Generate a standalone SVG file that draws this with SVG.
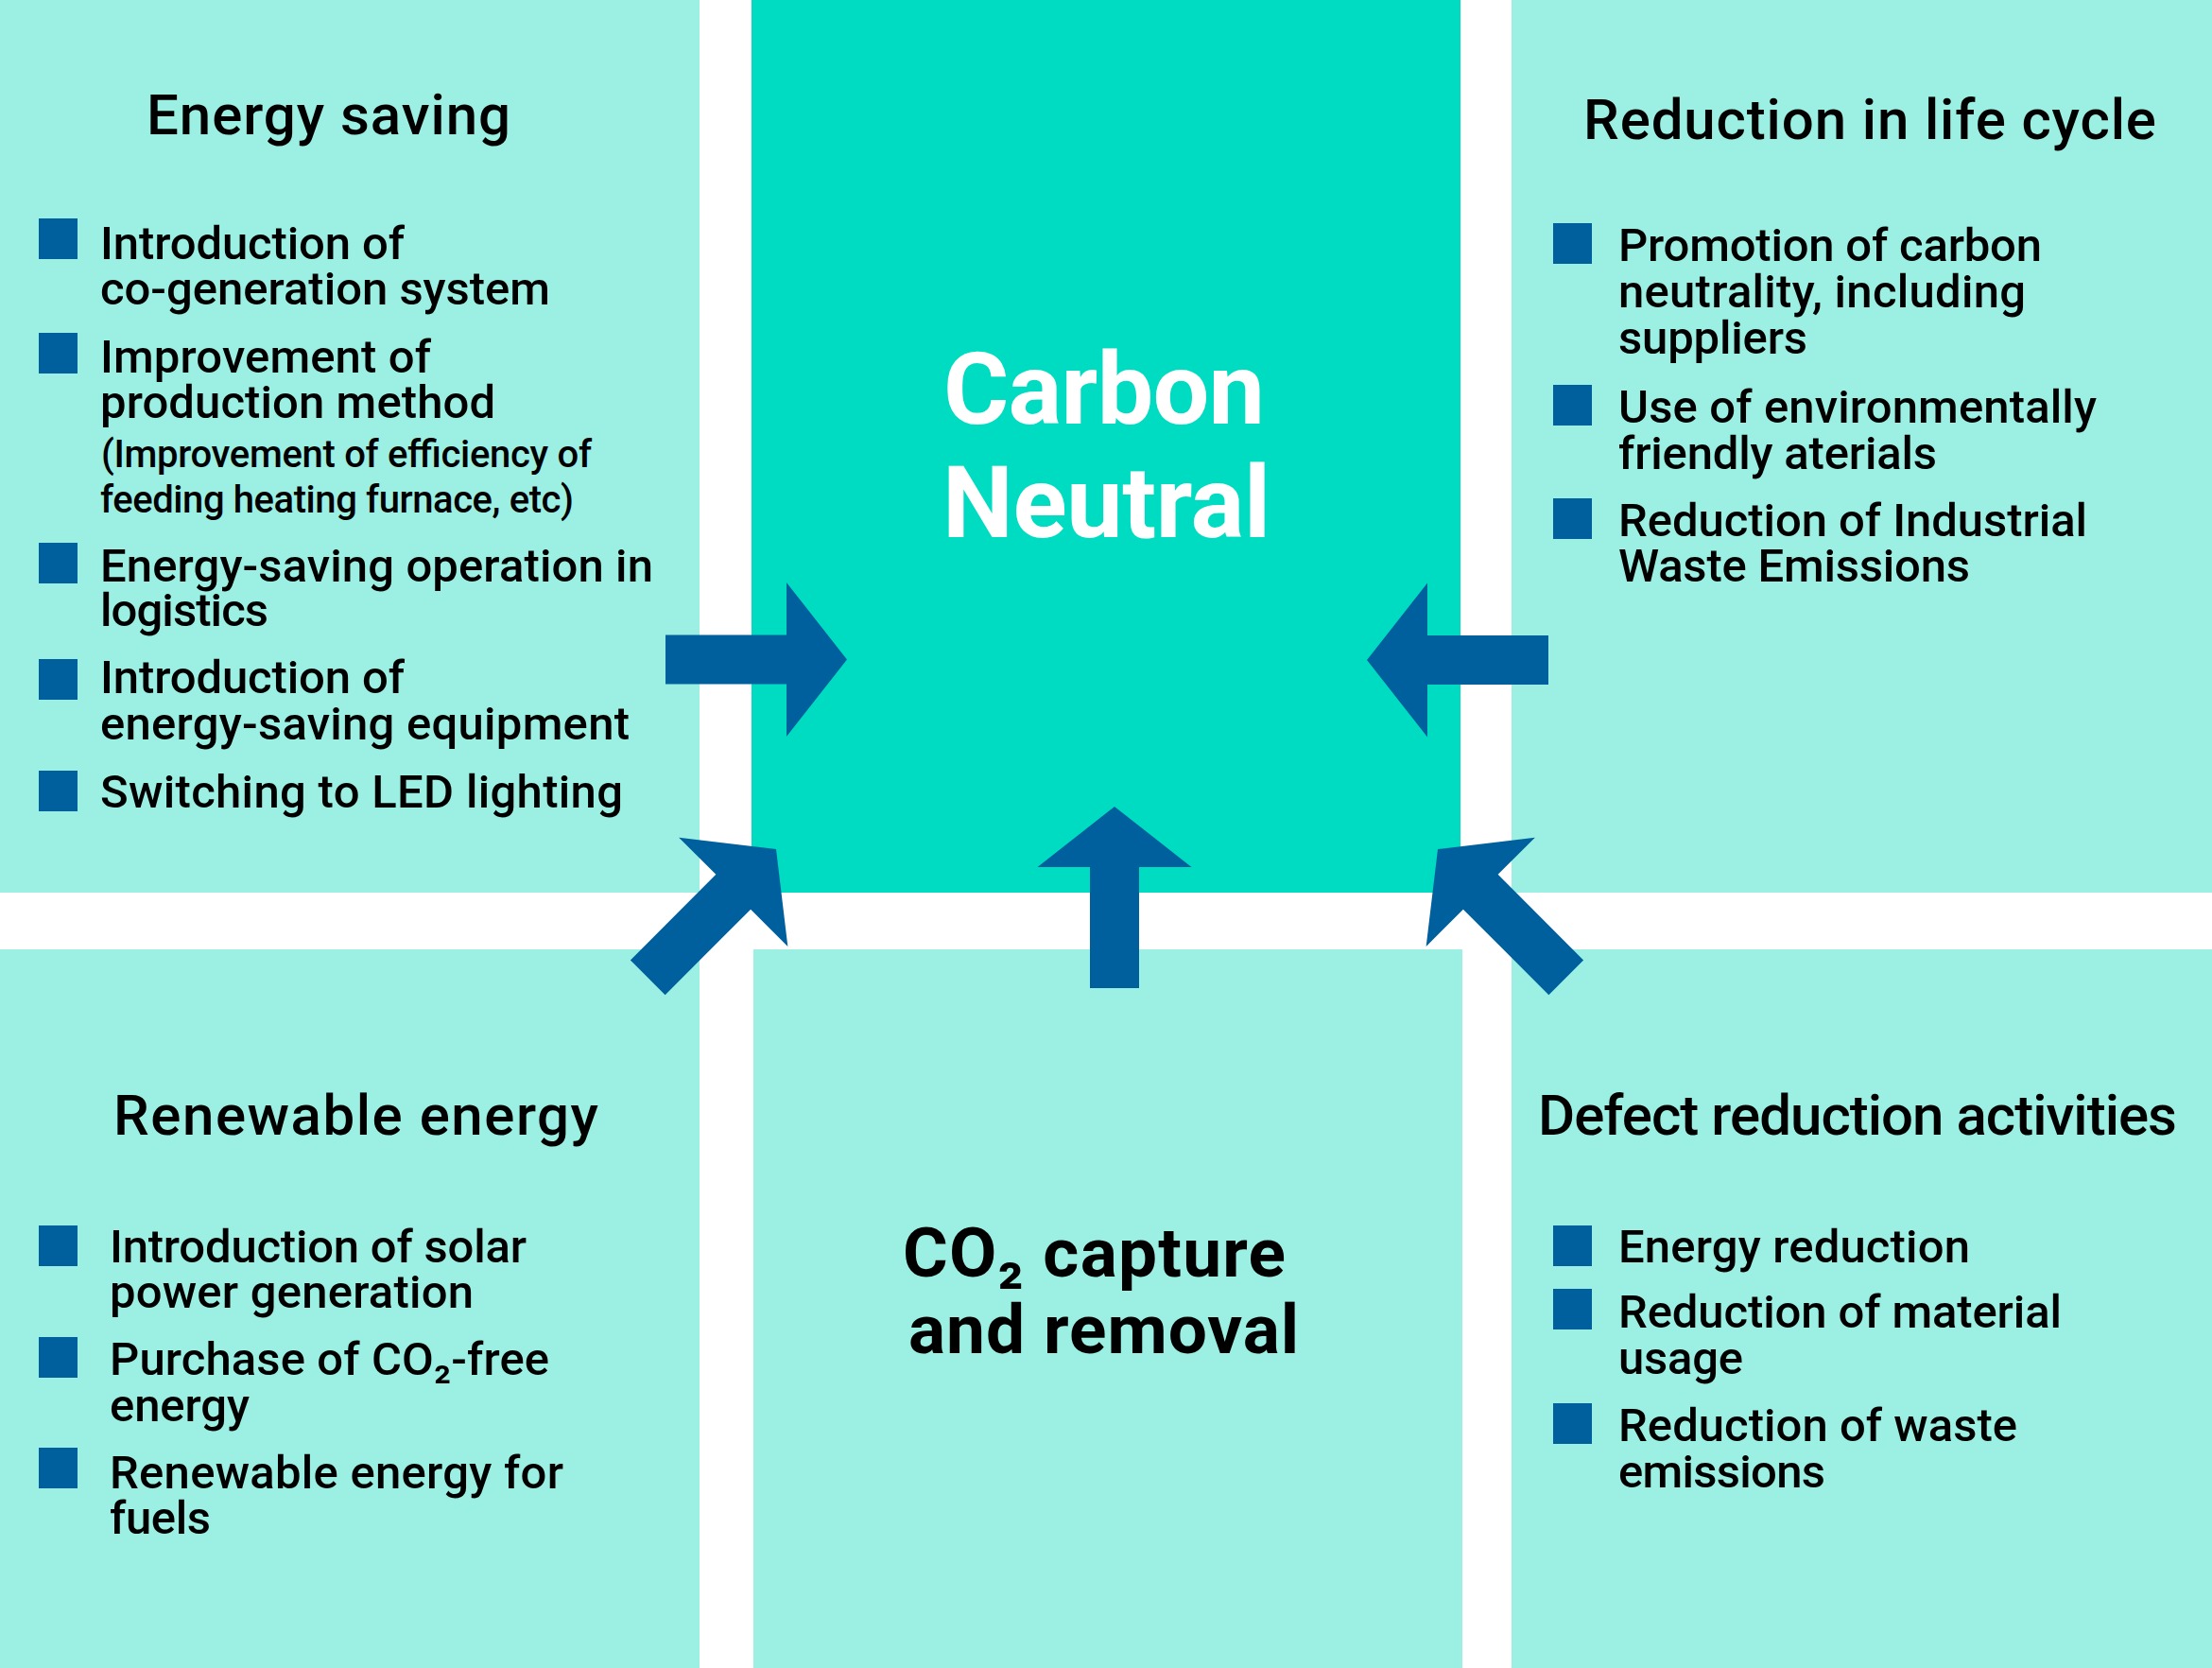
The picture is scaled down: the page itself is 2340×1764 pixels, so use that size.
<svg xmlns="http://www.w3.org/2000/svg" xmlns:xlink="http://www.w3.org/1999/xlink" width="2340" height="1764" viewBox="0 0 2340 1764">
<style>
.panel{fill:#9bf0e3}
.core{fill:#00dcc2}
.sq{fill:#00609e}
.t{font-family:Roboto,"Liberation Sans",sans-serif;font-weight:500;fill:#000}
.title{font-size:60px}
.body{font-size:49px}
.small{font-size:40px}
.cn{font-family:Roboto,"Liberation Sans",sans-serif;font-weight:700;font-size:106px;fill:#fff}
.co2{font-family:Roboto,"Liberation Sans",sans-serif;font-weight:700;font-size:73px;fill:#000}
</style>
<defs>
<polygon id="arw" points="0,0 -64,-81.5 -64,-26 -192,-26 -192,26 -64,26 -64,81.5" fill="#00609e"/>
</defs>
<rect x="0" y="0" width="2340" height="1764" fill="#ffffff"/>

<g id="energy-saving">
<rect class="panel" x="0" y="0" width="740" height="944"/>
<text class="t title" x="155" y="142" textLength="385">Energy saving</text>
<rect class="sq" x="41" y="231" width="41" height="43"/>
<rect class="sq" x="41" y="352" width="41" height="43"/>
<rect class="sq" x="41" y="574" width="41" height="43"/>
<rect class="sq" x="41" y="697" width="41" height="43"/>
<rect class="sq" x="41" y="815" width="41" height="43"/>
<text class="t body" x="106" y="274" textLength="322">Introduction of</text>
<text class="t body" x="106" y="322" textLength="476">co-generation system</text>
<text class="t body" x="106" y="394" textLength="350">Improvement of</text>
<text class="t body" x="106" y="442" textLength="418">production method</text>
<text class="t small" x="107" y="494" textLength="519">(Improvement of efficiency of</text>
<text class="t small" x="106" y="542" textLength="501">feeding heating furnace, etc)</text>
<text class="t body" x="106" y="615" textLength="585">Energy-saving operation in</text>
<text class="t body" x="106" y="662" textLength="178">logistics</text>
<text class="t body" x="106" y="733" textLength="322">Introduction of</text>
<text class="t body" x="106" y="782" textLength="560">energy-saving equipment</text>
<text class="t body" x="106" y="854" textLength="553">Switching to LED lighting</text>
</g>

<g id="carbon-neutral">
<rect class="core" x="795" y="0" width="750" height="944"/>
<text class="cn" x="998" y="448" textLength="340">Carbon</text>
<text class="cn" x="997" y="568" textLength="347">Neutral</text>
</g>

<g id="life-cycle">
<rect class="panel" x="1599" y="0" width="741" height="944"/>
<text class="t title" x="1675" y="147" textLength="606">Reduction in life cycle</text>
<rect class="sq" x="1643" y="236" width="41" height="43"/>
<rect class="sq" x="1643" y="407" width="41" height="43"/>
<rect class="sq" x="1643" y="527" width="41" height="43"/>
<text class="t body" x="1712" y="276" textLength="448">Promotion of carbon</text>
<text class="t body" x="1712" y="325" textLength="431">neutrality, including</text>
<text class="t body" x="1712" y="374" textLength="200">suppliers</text>
<text class="t body" x="1712" y="447" textLength="506">Use of environmentally</text>
<text class="t body" x="1712" y="496" textLength="337">friendly aterials</text>
<text class="t body" x="1712" y="567" textLength="496">Reduction of Industrial</text>
<text class="t body" x="1712" y="615" textLength="372">Waste Emissions</text>
</g>

<g id="renewable-energy">
<rect class="panel" x="0" y="1004" width="740" height="760"/>
<text class="t title" x="120" y="1200" textLength="513">Renewable energy</text>
<rect class="sq" x="41" y="1296" width="41" height="43"/>
<rect class="sq" x="41" y="1414" width="41" height="43"/>
<rect class="sq" x="41" y="1531" width="41" height="43"/>
<text class="t body" x="116" y="1335" textLength="441">Introduction of solar</text>
<text class="t body" x="116" y="1383" textLength="385">power generation</text>
<text class="t body" x="116" y="1454" textLength="465">Purchase of CO₂-free</text>
<text class="t body" x="116" y="1503" textLength="148">energy</text>
<text class="t body" x="116" y="1574" textLength="480">Renewable energy for</text>
<text class="t body" x="116" y="1622" textLength="107">fuels</text>
</g>

<g id="co2-capture">
<rect class="panel" x="797" y="1004" width="750" height="760"/>
<text class="co2" x="955" y="1350" textLength="405">CO₂ capture</text>
<text class="co2" x="961" y="1431" textLength="413">and removal</text>
</g>

<g id="defect-reduction">
<rect class="panel" x="1599" y="1004" width="741" height="760"/>
<text class="t title" x="1627" y="1200" textLength="676">Defect reduction activities</text>
<rect class="sq" x="1643" y="1296" width="41" height="43"/>
<rect class="sq" x="1643" y="1363" width="41" height="43"/>
<rect class="sq" x="1643" y="1484" width="41" height="43"/>
<text class="t body" x="1712" y="1335" textLength="372">Energy reduction</text>
<text class="t body" x="1712" y="1404" textLength="469">Reduction of material</text>
<text class="t body" x="1712" y="1453" textLength="132">usage</text>
<text class="t body" x="1712" y="1524" textLength="422">Reduction of waste</text>
<text class="t body" x="1712" y="1573" textLength="219">emissions</text>
</g>

<g id="connectors">
<use xlink:href="#arw" transform="translate(896,697.5)"/>
<use xlink:href="#arw" transform="translate(1446,698) rotate(180)"/>
<use xlink:href="#arw" transform="translate(1179,853) rotate(-90)"/>
<use xlink:href="#arw" transform="translate(821,898) rotate(-45)"/>
<use xlink:href="#arw" transform="translate(1521,898) rotate(-135)"/>
</g>
</svg>
